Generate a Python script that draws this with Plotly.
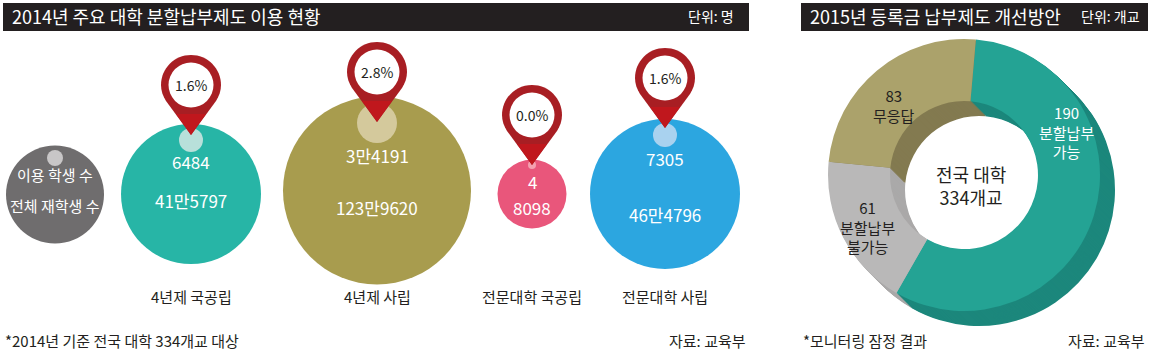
import plotly.graph_objects as go

W, H = 1150, 354
FONT = "Noto Sans CJK KR"

# ---- data ----
school_types = ["4년제 국공립", "4년제 사립", "전문대학 국공립", "전문대학 사립"]
enrolled_labels = ["41만5797", "123만9620", "8098", "46만4796"]
user_labels = ["6484", "3만4191", "4", "7305"]
share_labels = ["1.6%", "2.8%", "0.0%", "1.6%"]
plan_labels = ["분할납부 가능", "분할납부 불가능", "무응답"]
plan_values = [190, 61, 83]

# ---- layout ----
cx = [191, 377, 532, 665]
cy = [194, 190.5, 194, 194]
big_d = [140, 188, 69, 150]
small_y = [140, 123, 165, 135]
small_d = [24, 40, 8, 24]
pin_y = [85, 72, 115, 78]
big_col = ["#27b5a6", "#a89c4e", "#e9567b", "#2ca6e0"]
small_col = ["#b8e0da", "#d4c99c", "#f4a0b0", "#a9d2ef"]
user_y = [163, 157, 183, 160]
enr_y = [202, 209, 209, 216]

fig = go.Figure()

# legend key bubble + data bubbles
fig.add_trace(go.Scatter(x=[55] + cx, y=[194.5] + cy, mode="markers", hoverinfo="skip",
                         marker=dict(size=[98] + big_d, color=["#6f6d6e"] + big_col, line_width=0, opacity=1)))
fig.add_trace(go.Scatter(x=[55] + cx, y=[158] + small_y, mode="markers", hoverinfo="skip",
                         marker=dict(size=[16] + small_d, color=["#c8c6c7"] + small_col, line_width=0, opacity=1)))

# extruded donut
DX, DY, R = 964, 175, 136
def dom(k):
    return dict(x=[(DX + k - R) / W, (DX + k + R) / W],
                y=[1 - (DY + k + R) / H, 1 - (DY + k - R) / H])
def donut(k, cols):
    fig.add_trace(go.Pie(values=plan_values, labels=plan_labels, sort=False, direction="clockwise",
                         rotation=5, hole=0.544, domain=dom(k), textinfo="none", hoverinfo="skip",
                         marker=dict(colors=cols, line_width=0)))
for k in range(15, 0, -1):
    donut(k, ["#1c877c", "#aaa9a9", "#837a50"])
donut(0, ["#24a394", "#b9b8b8", "#aba26b"])

shapes = [
    dict(type="rect", x0=3, x1=749, y0=3, y1=31, fillcolor="#231f20", line_width=0, layer="above"),
    dict(type="rect", x0=801, x1=1148, y0=3, y1=31, fillcolor="#231f20", line_width=0, layer="above"),
]
k = 0.5523
for x, y in zip(cx, pin_y):
    r = 30
    o = r * k
    path = (f"M{x},{y+50} L{x-25},{y+16} C{x-28},{y+11} {x-r},{y+6} {x-r},{y} "
            f"C{x-r},{y-o} {x-o},{y-r} {x},{y-r} C{x+o},{y-r} {x+r},{y-o} {x+r},{y} "
            f"C{x+r},{y+6} {x+28},{y+11} {x+25},{y+16} Z")
    shapes.append(dict(type="path", path=path, fillcolor="#a81e23", line_width=0, layer="above"))
    shapes.append(dict(type="path", path=f"M{x},{y+50} L{x-15},{y+29} L{x+15},{y+29} Z",
                       fillcolor="#c0171d", line_width=0, layer="above"))
    shapes.append(dict(type="circle", x0=x-22.5, x1=x+22.5, y0=y-22.5, y1=y+22.5,
                       fillcolor="white", line_width=0, layer="above"))

ann = []
def t(x, y, s, size=15, color="#231f20", anchor="center"):
    ann.append(dict(x=x, y=y - 1.5, text=s, xref="x", yref="y", showarrow=False, xanchor=anchor, yanchor="middle",
                    font=dict(family=FONT, size=size, color=color)))

t(10, 17, "2014년 주요 대학 분할납부제도 이용 현황", 18, "white", "left")
t(736, 17, "단위: 명", 14, "white", "right")
t(808, 17, "2015년 등록금 납부제도 개선방안", 18, "white", "left")
t(1142, 17, "단위: 개교", 14, "white", "right")
t(55, 176, "이용 학생 수", 15, "white")
t(55, 207, "전체 재학생 수", 15, "white")
for i in range(4):
    t(cx[i], user_y[i], user_labels[i], 17, "white")
    t(cx[i], enr_y[i], enrolled_labels[i], 17, "white")
    t(cx[i], pin_y[i] + 1, share_labels[i], 14)
    t(cx[i], 298, school_types[i], 15)
t(3, 342, "*2014년 기준 전국 대학 334개교 대상", 15, anchor="left")
t(748, 342, "자료: 교육부", 15, anchor="right")
t(801, 342, "*모니터링 잠정 결과", 15, anchor="left")
t(1147, 342, "자료: 교육부", 15, anchor="right")
t(1066, 133, f"{plan_values[0]}<br>분할납부<br>가능", 15, "white")
t(894, 107, f"{plan_values[2]}<br>무응답", 15)
t(867, 228, f"{plan_values[1]}<br>분할납부<br>불가능", 15)
t(971, 187, "전국 대학<br>334개교", 18)

fig.update_layout(width=W, height=H, margin=dict(l=0, r=0, t=0, b=0), showlegend=False,
                  paper_bgcolor="white", plot_bgcolor="white", shapes=shapes, annotations=ann,
                  xaxis=dict(range=[0, W], visible=False, fixedrange=True),
                  yaxis=dict(range=[H, 0], visible=False, fixedrange=True))
fig.write_html("out.html", config=dict(displayModeBar=False),
               post_script="document.body.style.margin='0';document.body.style.overflow='hidden';")
